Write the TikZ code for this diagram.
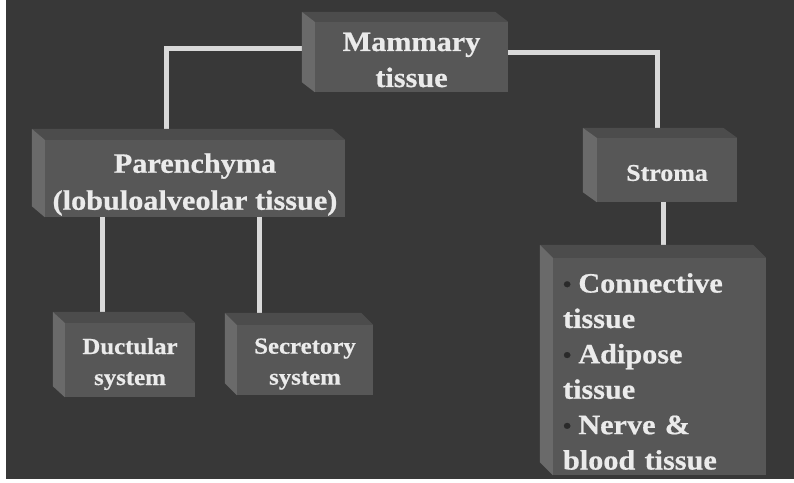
\documentclass[tikz,border=0pt]{standalone}
\usepackage{fontspec}
\setmainfont{Liberation Serif}[FakeStretch=1.08, BoldFeatures={FakeBold=0.6}]
\definecolor{bgc}{HTML}{383838}
\definecolor{face}{HTML}{575757}
\definecolor{sideL}{HTML}{6A6A6A}
\definecolor{sideT}{HTML}{4C4C4C}
\definecolor{txt}{HTML}{EBEBEB}
\definecolor{linec}{HTML}{D9D9D9}
\definecolor{bul}{HTML}{2A2A2A}
\pgfdeclarelayer{back}
\pgfdeclarelayer{mid}
\pgfsetlayers{back,mid,main}
\tikzset{
  front/.style={fill=face, draw=none, inner sep=0pt},
  lab/.style={text=txt, align=center, inner sep=0pt},
  bigtxt/.style={lab, font=\bfseries\fontsize{28}{36}\selectfont},
  smalltxt/.style={lab, font=\bfseries\fontsize{23}{31}\selectfont},
  conn/.style={draw=linec, line width=5pt},
}
\newcommand\bevelbox[3]{%
  \fill[sideT] (#1.north west) -- ++(-#2,-#3) -- ([xshift=-#2pt,yshift=#3pt]#1.north east) -- (#1.north east) -- cycle;
  \fill[sideL] (#1.north west) -- ++(-#2,-#3) -- ([xshift=-#2pt,yshift=#3pt]#1.south west) -- (#1.south west) -- cycle;
}
\newcommand\bul{{\color{bul}\fontsize{22}{22}\selectfont\raisebox{1pt}{•}}\hspace{7pt}}
\begin{document}
\begin{tikzpicture}[x=1pt,y=-1pt]
\useasboundingbox (0,0) rectangle (794,482);
% box faces
\node[front,minimum width=193pt,minimum height=70pt] (mam) at (411.5,57) {};
\node[front,minimum width=300pt,minimum height=77pt] (par) at (195,178.5) {};
\node[front,minimum width=140pt,minimum height=64pt] (str) at (667,170) {};
\node[front,minimum width=213pt,minimum height=217pt] (lst) at (659.5,366.5) {};
\node[front,minimum width=130pt,minimum height=74pt] (duc) at (130,360) {};
\node[front,minimum width=136pt,minimum height=70pt] (sec) at (305,360) {};
% texts
\node[bigtxt] (mamT) at ([yshift=-3pt]mam.center) {Mammary\\tissue};
\node[bigtxt,font=\bfseries\fontsize{28}{37}\selectfont] (parT) at ([yshift=-6pt]par.center) {Parenchyma\\(lobuloalveolar tissue)};
\node[lab,font=\bfseries\fontsize{24}{30}\selectfont] (strT) at ([yshift=-3pt]str.center) {Stroma};
\node[lab,font=\bfseries\fontsize{28}{35.4}\selectfont,align=left,text width=193pt] (lstT) at ([yshift=-5pt]lst.center)
  {\bul Connective\\tissue\\\bul Adipose\\tissue\\\bul Nerve \&\\blood tissue};
\node[smalltxt] (ducT) at ([yshift=-4pt]duc.center) {Ductular\\system};
\node[smalltxt] (secT) at ([yshift=-4pt]sec.center) {Secretory\\system};
\begin{pgfonlayer}{back}
  \fill[bgc] (0,0) rectangle (794,482);
  \fill[white] (0,0) rectangle (6,482);
  \fill[white] (0,479) rectangle (794,482);
  \draw[conn] ([yshift=9pt]mam.west) -| ([xshift=-29pt]par.north);
  \draw[conn] ([yshift=5pt]mam.east) -| ([xshift=-10pt]str.north);
  \draw[conn] ([xshift=-93pt]par.south) -- ([xshift=-93pt]par.south |- duc.north);
  \draw[conn] ([xshift=64pt]par.south) -- ([xshift=64pt]par.south |- sec.north);
  \draw[conn] ([xshift=-4pt]str.south) -- ([xshift=-4pt]str.south |- lst.north);
\end{pgfonlayer}
\begin{pgfonlayer}{mid}
  \bevelbox{mam}{13}{10}
  \bevelbox{par}{13}{11}
  \bevelbox{str}{14}{10}
  \bevelbox{lst}{13}{13}
  \bevelbox{duc}{12}{11}
  \bevelbox{sec}{12}{12}
\end{pgfonlayer}
\end{tikzpicture}
\end{document}
